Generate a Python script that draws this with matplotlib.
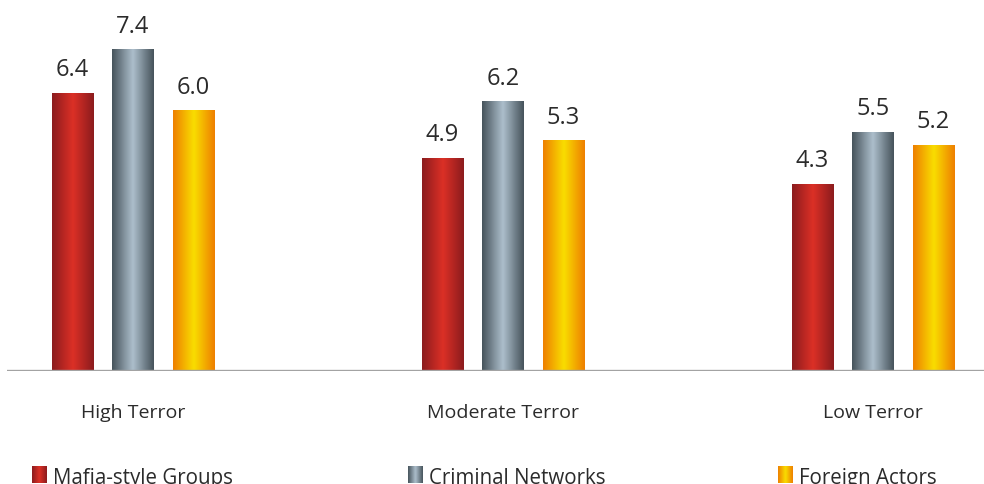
import numpy as np
import matplotlib.pyplot as plt
from matplotlib.colors import LinearSegmentedColormap

categories = ['High Terror', 'Moderate Terror', 'Low Terror']
series = ['Mafia-style Groups', 'Criminal Networks', 'Foreign Actors']
mafia = [6.4, 4.9, 4.3]
criminal = [7.4, 6.2, 5.5]
foreign = [6.0, 5.3, 5.2]
values = [mafia, criminal, foreign]

# gradients: edge colour -> centre colour -> edge colour
grads = [
    ['#8c1c1e', '#dc3026', '#8c1c1e'],
    ['#47545c', '#adbfcc', '#47545c'],
    ['#ee8000', '#f9de00', '#ee8000'],
]
cmaps = [LinearSegmentedColormap.from_list('g%d' % i, g) for i, g in enumerate(grads)]
ramp = np.linspace(0, 1, 64).reshape(1, -1)

plt.rcParams['font.family'] = ['Open Sans', 'DejaVu Sans']
txt = '#2b2b2b'

W, H = 984, 485
ppu = 43.4  # pixels per unit
fig = plt.figure(figsize=(W / 100, H / 100), dpi=100)
ax = fig.add_axes([7 / W, 113 / H, 977 / W, 372 / H])
xl = (-126 / 370, 851 / 370)
yl = (0, 372 / ppu)
ax.axis('off')

bw = 42 / 370
off = 60.5 / 370
x = np.arange(len(categories))
for s in range(len(series)):
    for i in range(len(categories)):
        xc = x[i] + (s - 1) * off
        h = values[s][i]
        ax.imshow(ramp, cmap=cmaps[s], aspect='auto', interpolation='bicubic',
                  extent=[xc - bw / 2, xc + bw / 2, 0, h], zorder=2)
        ax.text(xc, h + 18 / ppu, '%.1f' % h, ha='center', va='baseline',
                fontsize=17, color=txt)
ax.axhline(0, color='#a3a3a3', lw=2.4, zorder=3)
ax.set_xlim(*xl)
ax.set_ylim(*yl)

for i, c in enumerate(categories):
    ax.text(x[i], -41 / ppu, c, ha='center', va='center', fontsize=14, color=txt,
            clip_on=False)

# legend drawn in pixel space
lg = fig.add_axes([0, 0, 1, 1])
lg.axis('off')
patch_x = [32, 408, 778]
for s, name in enumerate(series):
    px = patch_x[s]
    lg.imshow(ramp, cmap=cmaps[s], aspect='auto', interpolation='bicubic',
              extent=[px, px + 15, 484, 467])
    lg.text(px + 21, 484, name, ha='left', va='baseline', fontsize=14.8, color=txt)
lg.set_xlim(0, W)
lg.set_ylim(H, 0)

fig.savefig('out.png', dpi=100)
